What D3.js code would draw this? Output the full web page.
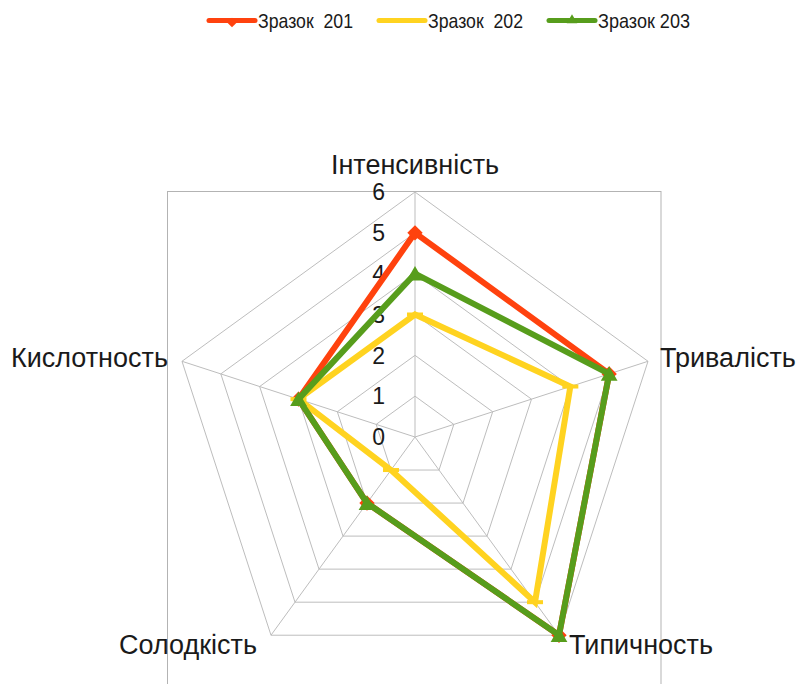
<!DOCTYPE html>
<html>
<head>
<meta charset="utf-8">
<script src="https://cdn.jsdelivr.net/npm/d3@7"></script>
<style>
  body { margin: 0; background: #fff; }
  text { font-family: "Liberation Sans", Arial, sans-serif; fill: #1a1a1a; white-space: pre; }
</style>
</head>
<body>
<div id="Radar"></div>
<script>
// data
const axes = ["Інтенсивність", "Тривалість", "Типичность", "Солодкість", "Кислотность"];
const seriesNames = ["Зразок  201", "Зразок  202", "Зразок 203"];
const sample201 = [5, 5, 6, 2, 3];
const sample202 = [3, 4, 5, 1, 3];
const sample203 = [4, 5, 6, 2, 3];
const ticks = [0, 1, 2, 3, 4, 5, 6];
const colors = ["#ff420e", "#ffd320", "#579d1c"];

var width = 799
var height = 684

var svg = d3.select("#Radar").append("svg")
    .attr("width", width)
    .attr("height", height)

const cx = 415, cy = 437, R = 245;

const rScale = d3.scaleLinear().domain([0, 6]).range([0, R]);
const angle = d3.scaleLinear().domain([0, axes.length]).range([0, 2 * Math.PI]);

const px = (i, v) => cx + Math.sin(angle(i)) * rScale(v);
const py = (i, v) => cy - Math.cos(angle(i)) * rScale(v);

// plot area frame
svg.append("rect")
    .attr("x", 167.5).attr("y", 191.5)
    .attr("width", 493.5).attr("height", 520)
    .attr("fill", "none").attr("stroke", "#b3b3b3");

const g = svg.append("g");

// rings
ticks.slice(1).forEach(t => {
    g.append("path")
        .attr("d", d3.line()(axes.map((a, i) => [px(i, t), py(i, t)])) + "Z")
        .attr("fill", "none").attr("stroke", "#bdbdbd").attr("stroke-width", 1);
});

// spokes
axes.forEach((a, i) => {
    g.append("line")
        .attr("x1", cx).attr("y1", cy)
        .attr("x2", px(i, 6)).attr("y2", py(i, 6))
        .attr("stroke", "#bdbdbd");
});

// tick labels
g.selectAll(".tick-label").data(ticks).enter().append("text")
    .attr("class", "tick-label")
    .attr("x", cx - 30)
    .attr("y", d => cy - rScale(d))
    .attr("dy", "0.36em")
    .attr("text-anchor", "end")
    .style("font-size", "23px")
    .text(d => d);

// axis labels
const labelPos = [
    {dx: 0, dy: -18, anchor: "middle"},
    {dx: 12, dy: 6, anchor: "start"},
    {dx: 10, dy: 19, anchor: "start"},
    {dx: -14, dy: 19, anchor: "end"},
    {dx: -14, dy: 6, anchor: "end"}
];
axes.forEach((a, i) => {
    svg.append("text")
        .attr("x", px(i, 6) + labelPos[i].dx)
        .attr("y", py(i, 6) + labelPos[i].dy)
        .attr("text-anchor", labelPos[i].anchor)
        .style("font-size", "27px")
        .text(a);
});

// markers
const diamond = d3.symbol().type(d3.symbolDiamond2);
const triangle = d3.symbol().type(d3.symbolTriangle2);

const drawMarker = (sel, k, x, y, scale) => {
    if (k === 0) {
        sel.append("path").attr("d", diamond.size(150 * scale)())
            .attr("transform", `translate(${x},${y})`).attr("fill", colors[k]);
    } else if (k === 1) {
        sel.append("rect")
            .attr("x", x - 8 * scale).attr("y", y - 2)
            .attr("width", 16 * scale).attr("height", 4)
            .attr("fill", colors[k]);
    } else {
        sel.append("path").attr("d", triangle.size(200 * scale)())
            .attr("transform", `translate(${x},${y + 2 * scale})`).attr("fill", colors[k]);
    }
};

// series
const allSeries = [sample201, sample202, sample203];
allSeries.forEach((s, k) => {
    const pts = s.map((v, i) => [px(i, v), py(i, v)]);
    g.append("path")
        .attr("d", d3.line()(pts) + "Z")
        .attr("fill", "none")
        .attr("stroke", colors[k])
        .attr("stroke-width", 6)
        .attr("stroke-linejoin", "miter");
    pts.forEach(p => drawMarker(g, k, p[0], p[1], 1));
});

// legend
const legendX = [207, 377, 547];
const legendW = [95, 95, 92];
seriesNames.forEach((n, k) => {
    const lg = svg.append("g").attr("transform", `translate(${legendX[k]}, 20.5)`);
    lg.append("line")
        .attr("x1", 2).attr("x2", 48)
        .attr("y1", 0).attr("y2", 0)
        .attr("stroke", colors[k])
        .attr("stroke-width", 5)
        .attr("stroke-linecap", "round");
    if (k !== 1) drawMarker(lg, k, 25, k === 0 ? 2 : -1, 0.4);
    lg.append("text")
        .attr("x", 51).attr("y", 0).attr("dy", "0.36em")
        .attr("textLength", legendW[k])
        .attr("lengthAdjust", "spacingAndGlyphs")
        .style("font-size", "21px")
        .text(n);
});
</script>
</body>
</html>
